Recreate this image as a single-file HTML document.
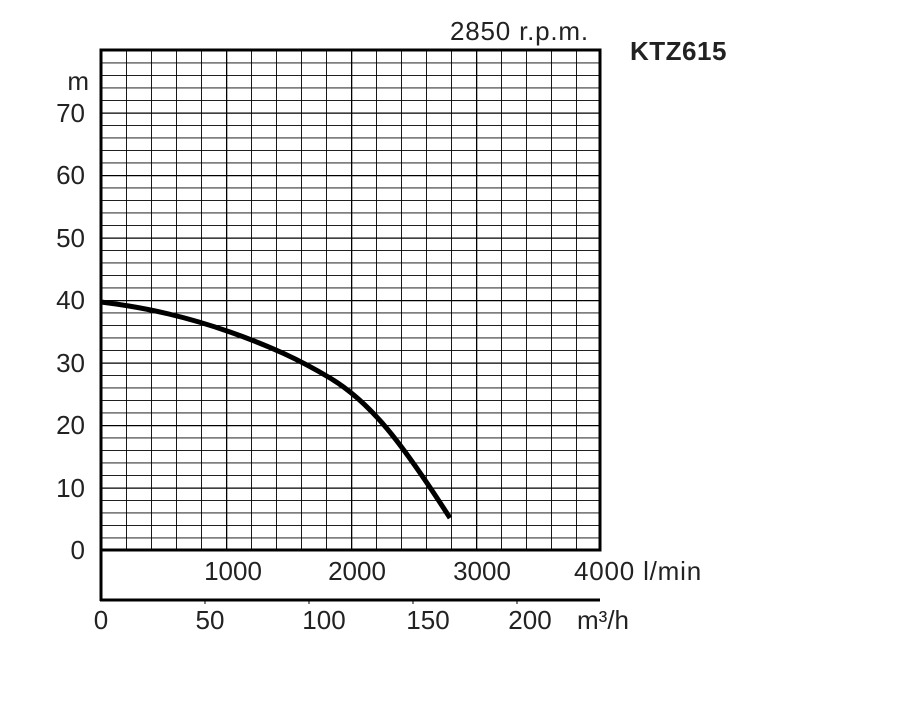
<!DOCTYPE html>
<html><head><style>body{margin:0;background:#fff}svg text{font-family:"Liberation Sans",Arial,sans-serif;fill:#222}</style></head><body>
<svg width="900" height="700" xmlns="http://www.w3.org/2000/svg">
<defs>
<pattern id="p" patternUnits="userSpaceOnUse" x="101" y="50" width="25" height="12.5">
<line x1="0" y1="0" x2="0" y2="12.5" stroke="#000" stroke-width="1.8"/>
<line x1="0" y1="0" x2="25" y2="0" stroke="#000" stroke-width="1.8"/>
</pattern>
<pattern id="q" patternUnits="userSpaceOnUse" x="101" y="50" width="125" height="62.5">
<line x1="0" y1="0" x2="0" y2="62.5" stroke="#000" stroke-width="2.6"/>
<line x1="0" y1="0" x2="125" y2="0" stroke="#000" stroke-width="2.6"/>
</pattern>
</defs>
<rect x="101" y="50" width="499" height="500" fill="url(#p)"/>
<rect x="101" y="50" width="499" height="500" fill="url(#q)"/>
<rect x="101" y="50" width="499" height="500" fill="none" stroke="#000" stroke-width="3"/>
<line x1="101" y1="550" x2="101" y2="601" stroke="#000" stroke-width="3"/>
<line x1="100" y1="600" x2="600" y2="600" stroke="#000" stroke-width="3"/>
<g stroke="#000" stroke-width="1"><line x1="205" y1="600" x2="205" y2="604"/><line x1="309" y1="600" x2="309" y2="604"/><line x1="413" y1="600" x2="413" y2="604"/><line x1="517" y1="600" x2="517" y2="604"/></g>
<path d="M101,302 C150,308 190,318 230,332 C270,346 300,360 330,378 C370,402 400,440 450,518" fill="none" stroke="#000" stroke-width="5"/>
<g font-size="26" text-anchor="end">
<text x="89" y="90">m</text>
<text x="85" y="122">70</text><text x="85" y="184">60</text><text x="85" y="247">50</text>
<text x="85" y="309">40</text><text x="85" y="372">30</text><text x="85" y="434">20</text>
<text x="85" y="497">10</text><text x="85" y="559">0</text>
</g>
<g font-size="26" text-anchor="middle">
<text x="233" y="580">1000</text><text x="357" y="580">2000</text><text x="482" y="580">3000</text>
<text x="101" y="629">0</text><text x="210" y="629">50</text><text x="324" y="629">100</text><text x="428" y="629">150</text><text x="530" y="629">200</text>
</g>
<text x="574" y="580" font-size="26" letter-spacing="0.8">4000 l/min</text>
<text x="577" y="629" font-size="26">m³/h</text>
<text x="450" y="40" font-size="26" letter-spacing="0.8">2850 r.p.m.</text>
<text x="630" y="60" font-size="26" font-weight="bold" fill="#000" letter-spacing="0.5">KTZ615</text>
</svg>
</body></html>
